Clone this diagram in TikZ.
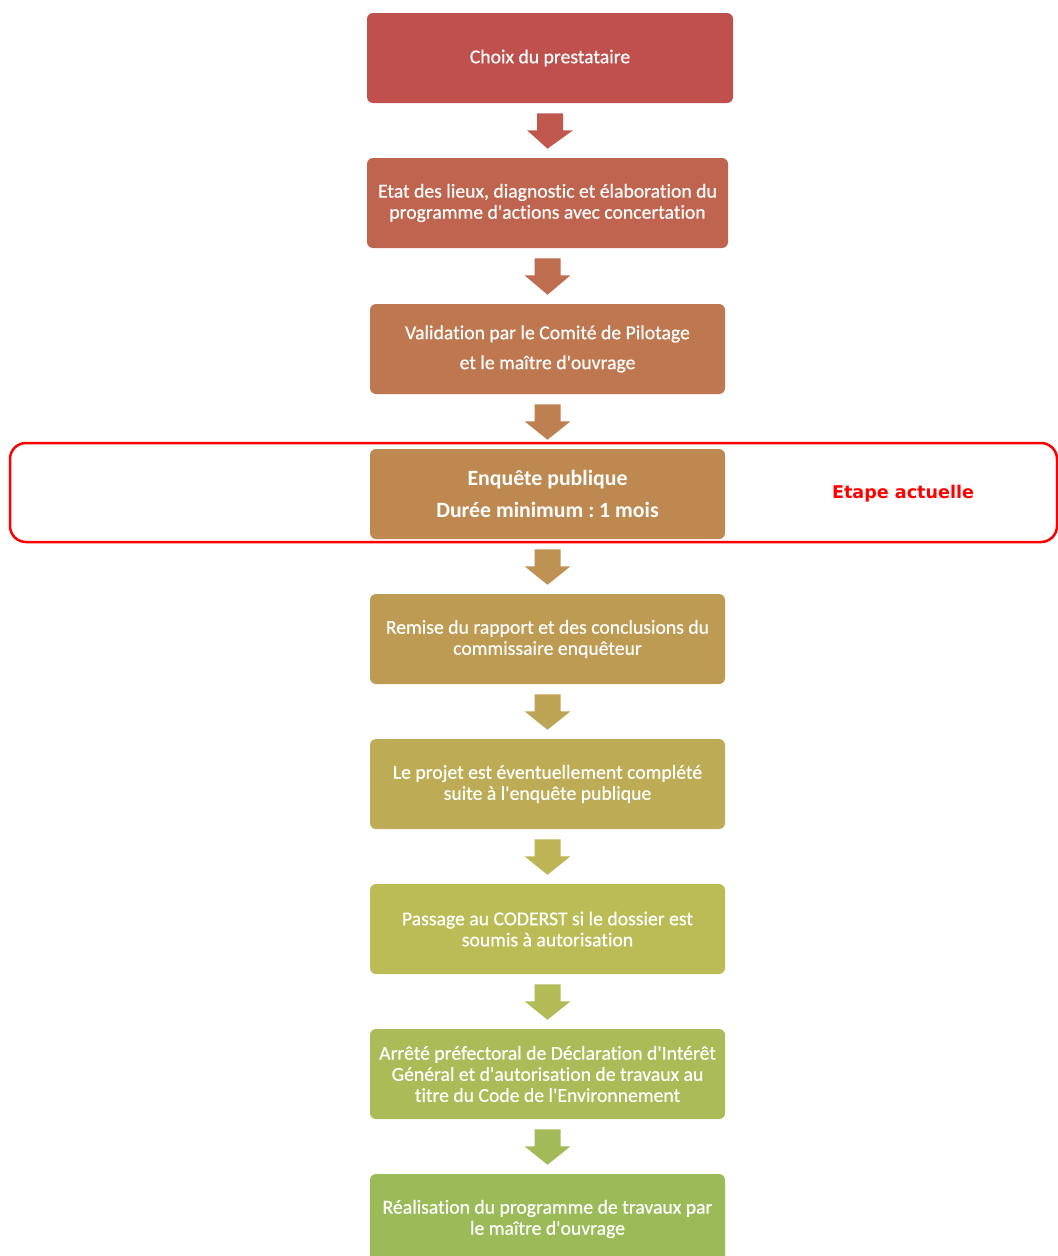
\documentclass[tikz,border=0pt]{standalone}
\usepackage{fontspec}
\setmainfont{Carlito}[Ligatures=NoCommon, FakeBold=0.5]
\newfontfamily\boldfont{Carlito}[Ligatures=NoCommon]
\newfontfamily\notefont{DejaVu Sans}
\usetikzlibrary{calc}
\frenchspacing
\newdimen\pxu \pxu=0.025cm
\newcommand{\ap}{\textquotesingle}
\definecolor{cA}{RGB}{192,80,77}
\definecolor{cB}{RGB}{191,100,78}
\definecolor{cC}{RGB}{191,119,80}
\definecolor{cD}{RGB}{190,137,81}
\definecolor{cE}{RGB}{189,155,83}
\definecolor{cF}{RGB}{189,172,85}
\definecolor{cG}{RGB}{187,188,86}
\definecolor{cH}{RGB}{170,187,87}
\definecolor{cI}{RGB}{155,187,89}
\definecolor{framered}{RGB}{255,0,0}
\tikzset{
  stepbox/.style={rectangle, rounded corners=6\pxu, minimum width=355\pxu, minimum height=90\pxu,
    inner sep=0pt, text=white, align=center,
    font=\frenchspacing\fontsize{14}{15}\selectfont}
}
\newcommand{\flowarrow}[3]{%
  \fill[#3] ($(#1.south)+(-13,10)$) -- ($(#1.south)+(13,10)$) -- ($(#1.south)+(13,27)$)
    -- ($(#1.south)+(23,27)$) -- ($(#2.north)+(0,-9)$) -- ($(#1.south)+(-23,27)$)
    -- ($(#1.south)+(-13,27)$) -- cycle;}
\begin{document}
\begin{tikzpicture}[x=0.025cm, y=-0.025cm]
\useasboundingbox[fill=white] (0,0) rectangle (1058,1256);
% red frame
\node[draw=framered, line width=2.5\pxu, rounded corners=16\pxu, minimum width=1047\pxu, minimum height=99\pxu, inner sep=0pt] (frame) at (533.5,492.5) {};
\node[text=framered, font=\notefont\bfseries\fontsize{12.5}{15}\selectfont] (note) at (903,494) {Etape actuelle};
% boxes
\node[stepbox, fill=cA, minimum width=366\pxu] (b1) at (550,58) {Choix du prestataire};
\node[stepbox, fill=cB, minimum width=361\pxu] (b2) at (547.5,203) {Etat des lieux, diagnostic et élaboration du\\programme d\ap actions avec concertation};
\node[stepbox, fill=cC, font=\frenchspacing\fontsize{14}{21.3}\selectfont] (b3) at (547.5,349) {Validation par le Comité de Pilotage\\et le maître d\ap ouvrage};
\node[stepbox, fill=cD, font=\frenchspacing\boldfont\bfseries\fontsize{15.5}{22.8}\selectfont] (b4) at (547.5,494) {Enquête publique\\Durée minimum : 1 mois};
\node[stepbox, fill=cE] (b5) at (547.5,639) {Remise du rapport et des conclusions du\\commissaire enquêteur};
\node[stepbox, fill=cF] (b6) at (547.5,784) {Le projet est éventuellement complété\\suite à l\ap enquête publique};
\node[stepbox, fill=cG] (b7) at (547.5,929) {Passage au CODERST si le dossier est\\soumis à autorisation};
\node[stepbox, fill=cH] (b8) at (547.5,1074) {Arrêté préfectoral de Déclaration d\ap Intérêt\\Général et d\ap autorisation de travaux au\\titre du Code de l\ap Environnement};
\node[stepbox, fill=cI] (b9) at (547.5,1219) {Réalisation du programme de travaux par\\le maître d\ap ouvrage};
% arrows
\flowarrow{b1}{b2}{cA!60!cB}
\flowarrow{b2}{b3}{cB!50!cC}
\flowarrow{b3}{b4}{cC!50!cD}
\flowarrow{b4}{b5}{cD!50!cE}
\flowarrow{b5}{b6}{cE!50!cF}
\flowarrow{b6}{b7}{cF!50!cG}
\flowarrow{b7}{b8}{cG!50!cH}
\flowarrow{b8}{b9}{cH!50!cI}
\end{tikzpicture}
\end{document}
